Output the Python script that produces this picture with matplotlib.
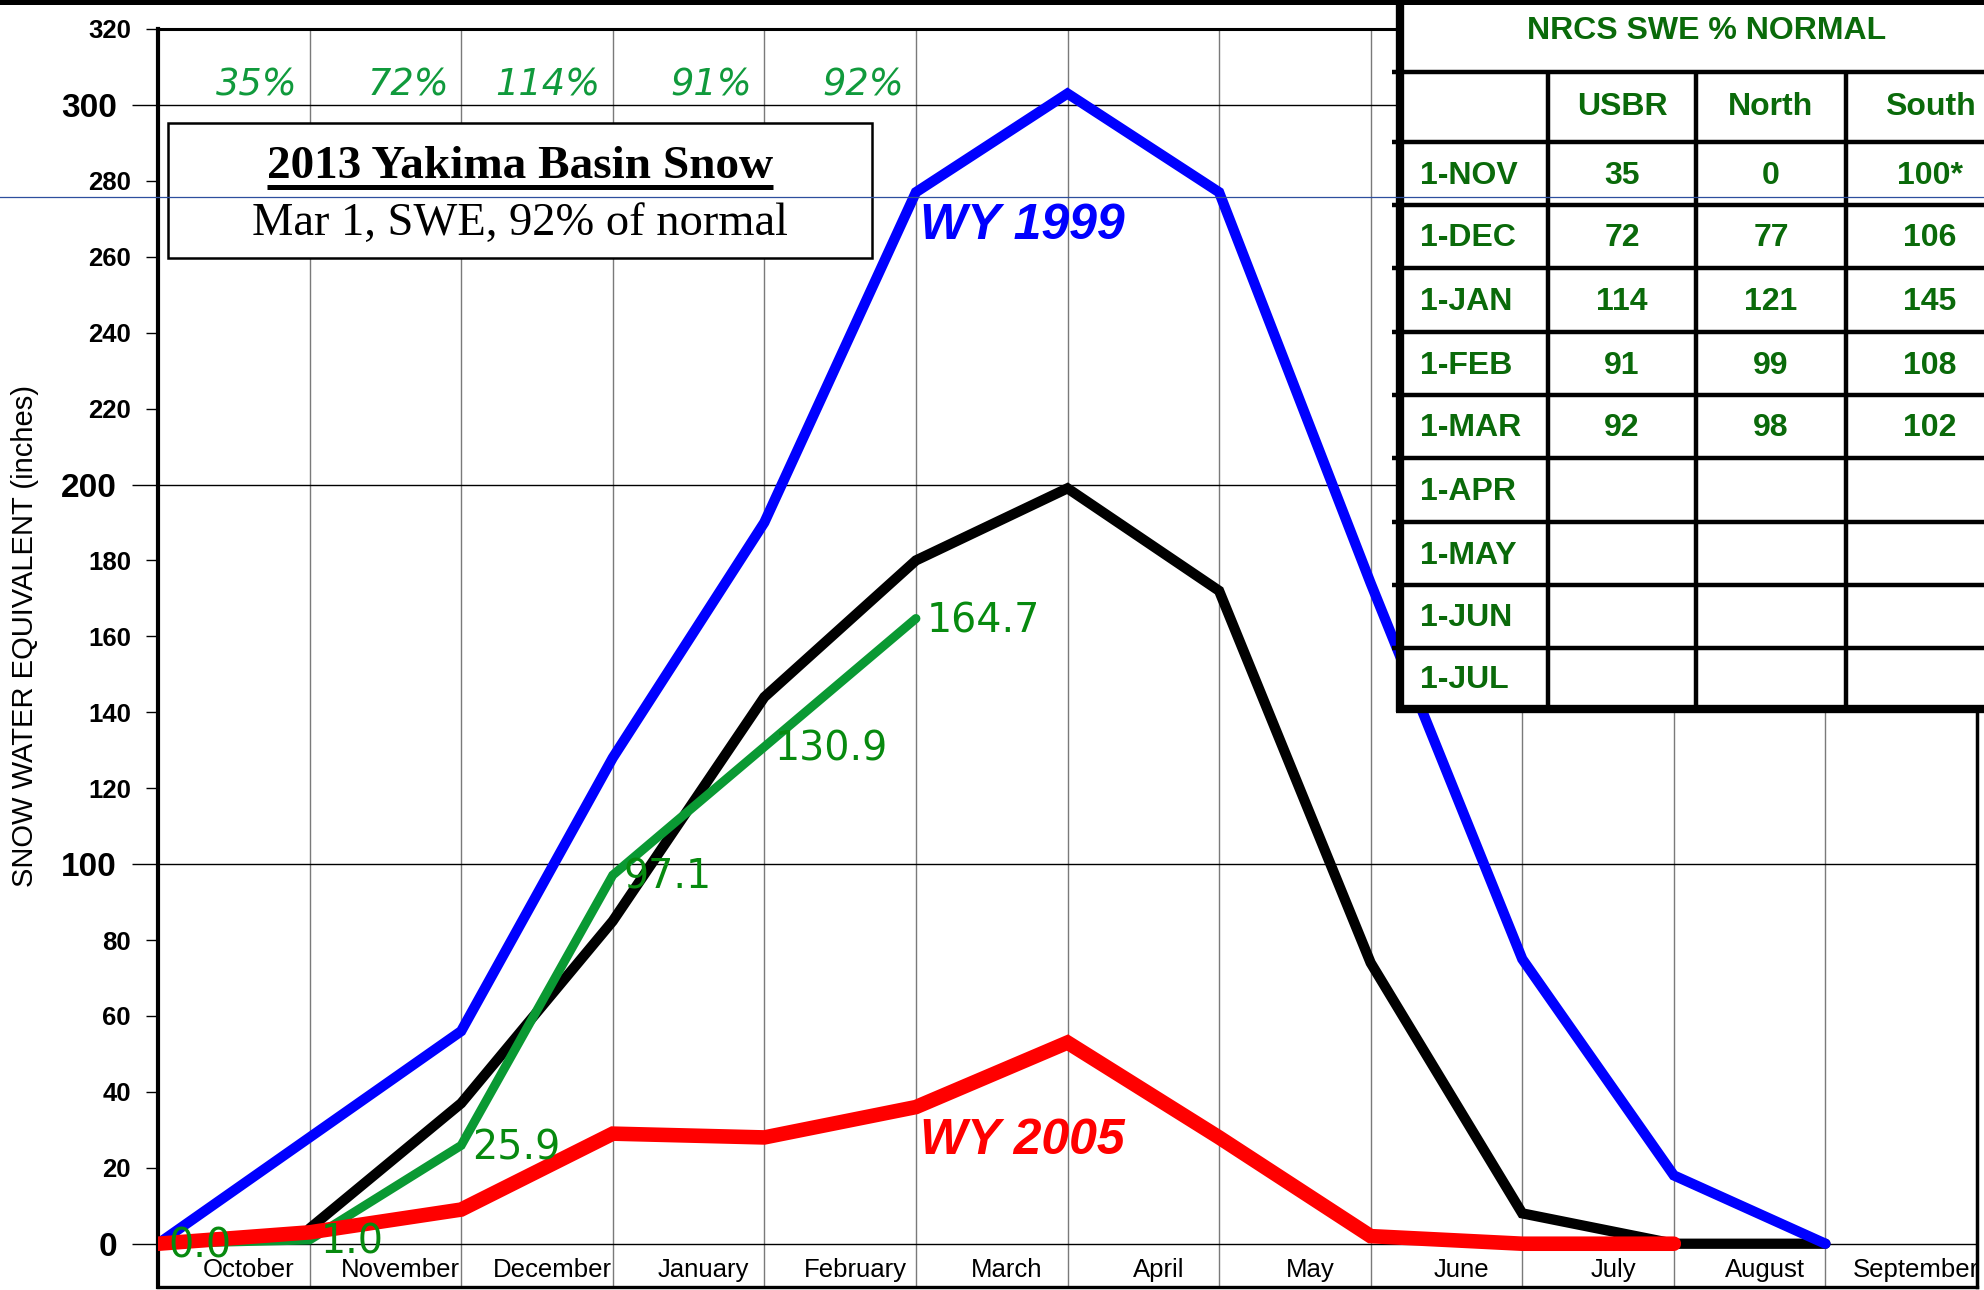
import numpy as np
import matplotlib
matplotlib.use('Agg')
import matplotlib.pyplot as plt
from matplotlib.patches import Rectangle
from matplotlib.ticker import FixedLocator

plt.rcParams['font.family'] = ['Liberation Sans', 'DejaVu Sans']

# ---- data (x = first of month, Oct 1 = 0) ----
months = ['October', 'November', 'December', 'January', 'February', 'March',
          'April', 'May', 'June', 'July', 'August', 'September']
wy1999 = [0, 28, 56, 128, 190, 277, 303, 277, 174, 75, 18, 0]
wy_avg = [np.nan, 4, 37, 85, 144, 180, 199, 172, 74, 8, 0, 0]
wy2005 = [0, 3, 9, 29, 28, 36, 53, 28, 2, 0, 0]
wy2013 = [0.0, 1.0, 25.9, 97.1, 130.9, 164.7]
pct_normal = ['35%', '72%', '114%', '91%', '92%']

table_title = 'NRCS SWE % NORMAL'
table_cols = ['USBR', 'North', 'South']
table_rows = ['1-NOV', '1-DEC', '1-JAN', '1-FEB', '1-MAR',
              '1-APR', '1-MAY', '1-JUN', '1-JUL']
usbr = ['35', '72', '114', '91', '92', '', '', '', '']
north = ['0', '77', '121', '99', '98', '', '', '', '']
south = ['100*', '106', '145', '108', '102', '', '', '', '']

W, H = 1984, 1290
fig = plt.figure(figsize=(W / 100, H / 100), dpi=100)
ax = fig.add_axes([158 / W, 3 / H, 1819 / W, 1258 / H])

x = np.arange(12)
ax.plot(x[:len(wy_avg)], wy_avg, color='black', lw=7.4, zorder=3,
        solid_capstyle='round', solid_joinstyle='miter')
ax.plot(x[:len(wy2013)], wy2013, color='#0a9933', lw=6.5, zorder=4,
        solid_capstyle='round', solid_joinstyle='miter')
ax.plot(x[:len(wy1999)], wy1999, color='#0000ff', lw=7.4, zorder=5,
        solid_capstyle='round', solid_joinstyle='miter')
ax.plot(x[:len(wy2005)], wy2005, color='#ff0000', lw=10.5, zorder=6,
        solid_capstyle='round', solid_joinstyle='miter')

ax.set_xlim(0, 12)
ax.set_ylim(-11.4, 320)

# grid: month boundaries and every 100
ax.set_xticks(range(1, 12))
ax.tick_params(axis='x', length=0, labelbottom=False)
ax.grid(axis='x', color='#7a7a7a', lw=1.0)
ax.set_yticks([0, 100, 200, 300])
ax.yaxis.set_minor_locator(FixedLocator([v for v in range(20, 321, 20) if v % 100]))
ax.grid(axis='y', which='major', color='black', lw=1.0)
ax.set_axisbelow(True)
ax.tick_params(axis='y', which='major', length=19, width=1.0, pad=10.5,
               labelsize=24)
ax.tick_params(axis='y', which='minor', length=9, width=1.0, pad=10.5,
               labelsize=18.5)
ax.yaxis.set_minor_formatter(plt.FuncFormatter(lambda v, p: f'{v:.0f}'))
for lab in ax.get_yticklabels(which='both'):
    lab.set_fontweight('bold')

for side, lw in [('left', 3.0), ('bottom', 2.4), ('top', 2.2), ('right', 2.5)]:
    ax.spines[side].set_linewidth(lw)

# month names
for i, m in enumerate(months):
    ax.text(i + 0.6, -8.8, m, ha='center', va='baseline', fontsize=18.5)

# percent of normal along the top
for i, p in enumerate(pct_normal):
    ax.text(i + 0.92, 305.3, p, ha='right', va='center', fontsize=26.5,
            style='italic', color='#109a3c', family='DejaVu Sans')

# 2013 values
for i, v in enumerate(wy2013):
    ax.text(i + 0.07, v - 0.7, f'{v:.1f}', ha='left', va='center',
            fontsize=28.5, color='#078a0f', family='DejaVu Sans', zorder=7)

ax.text(5.03, 268, 'WY 1999', color='#0000ff', fontsize=36,
        weight='bold', style='italic', va='center', zorder=7)
ax.text(5.03, 27, 'WY 2005', color='#ff0000', fontsize=36,
        weight='bold', style='italic', va='center', zorder=7)

fig.text(25 / W, 1 - 636 / H, 'SNOW WATER EQUIVALENT (inches)', rotation=90,
         ha='center', va='center', fontsize=21)

# ---- overlay in figure pixels: title box, table, borders ----
ov = fig.add_axes([0, 0, 1, 1])
ov.set_xlim(0, W)
ov.set_ylim(H, 0)
ov.axis('off')
ov.set_zorder(10)
ov.patch.set_alpha(0)

ov.add_patch(Rectangle((168, 123), 704, 135, facecolor='white',
                       edgecolor='black', lw=1.8))
t1 = ov.text(520, 178, '2013 Yakima Basin Snow', ha='center', va='baseline',
             fontsize=34, weight='bold', family='Liberation Serif')
ov.text(520, 235, 'Mar 1, SWE, 92% of normal', ha='center', va='baseline',
        fontsize=33.5, family='Liberation Serif')
bb = t1.get_window_extent(renderer=fig.canvas.get_renderer())
ov.plot([bb.x0, bb.x1], [187, 187], color='black', lw=3.6,
        solid_capstyle='butt')

# table
tx0, tx1 = 1400, 2014
row_lines = [72, 142, 205, 268, 332, 395, 458, 522, 585, 648, 709]
col_lines = [1548, 1696, 1846]
green = '#0a6a0a'
ov.add_patch(Rectangle((tx0, 0), W - tx0, 712, facecolor='white',
                       edgecolor='none'))
for yl in row_lines[:-1]:
    ov.plot([tx0 - 8, W], [yl, yl], color='black', lw=3.2,
            solid_capstyle='butt')
ov.plot([tx0 - 4, W], [row_lines[-1], row_lines[-1]], color='black', lw=6.0,
        solid_capstyle='butt')
ov.plot([tx0, tx0], [0, row_lines[-1] + 3], color='black', lw=6.0,
        solid_capstyle='butt')
for xl in col_lines:
    ov.plot([xl, xl], [row_lines[0], row_lines[-1]], color='black', lw=3.2,
            solid_capstyle='butt')

tkw = dict(fontsize=23, weight='bold', color=green, va='center')
ov.text((tx0 + tx1) / 2, 31, table_title, ha='center', **tkw)
col_x = [(a + b) / 2 for a, b in zip(col_lines, col_lines[1:] + [tx1])]
for cx, c in zip(col_x, table_cols):
    ov.text(cx, (row_lines[0] + row_lines[1]) / 2, c, ha='center', **tkw)
for r, name in enumerate(table_rows):
    cy = (row_lines[r + 1] + row_lines[r + 2]) / 2 + 2
    ov.text(1420, cy, name, ha='left', **tkw)
    for cx, val in zip(col_x, (usbr[r], north[r], south[r])):
        ov.text(cx, cy, val, ha='center', **tkw)

# top black bar and thin blue line across the page
ov.add_patch(Rectangle((0, 0), W, 5, facecolor='black', edgecolor='none'))
ov.plot([0, W], [197, 197], color='#2d4f9e', lw=0.9)

fig.savefig('out.png', dpi=100)
